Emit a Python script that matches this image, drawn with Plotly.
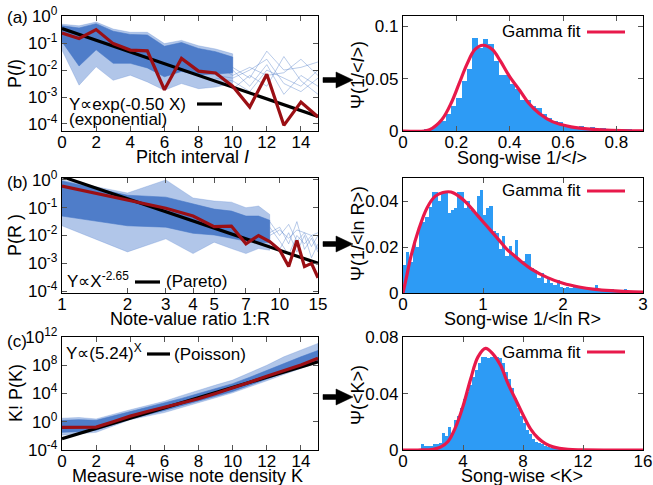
import plotly.graph_objects as go

W, H = 653, 485          # target window
OFF = 0                  # page margin removed by the post script below
FW, FH = W - OFF, H - OFF
FONT = "Liberation Sans, Arial, Helvetica, sans-serif"

# ---------------- data: panel (a) pitch interval ----------------
pitch_I = list(range(16))
pitch_mean_log = [-0.63, -0.83, -0.50, -1.02, -1.26, -1.29, -2.73, -1.57,
                  -2.04, -2.11, -2.60, -3.37, -2.16, -4.05, -3.19, -3.74]
pitch_fit_x = [0, 15]
pitch_fit_log = [-0.46, -3.72]
pitch_band_x = list(range(11))
pitch_outer_hi = [-0.30, -0.36, -0.22, -0.48, -0.60, -0.60, -1.02, -0.90, -1.10, -1.22, -1.40]
pitch_outer_lo = [-1.26, -2.56, -1.88, -2.38, -2.19, -2.44, -2.75, -2.50, -2.69, -2.63, -2.50]
pitch_core_hi = [-0.36, -0.44, -0.28, -0.56, -0.68, -0.70, -1.12, -0.98, -1.20, -1.32, -1.52]
pitch_core_lo = [-0.95, -1.85, -1.25, -1.75, -1.75, -1.92, -2.25, -2.05, -2.17, -2.15, -2.10]
pitch_sparse_x = [9, 10, 11, 12, 13, 14, 15]
pitch_sparse = [
    [-2.0, -1.9, -2.3, -1.3, -2.0, -1.9, -1.7],
    [-2.2, -2.3, -2.0, -1.6, -2.5, -2.8, -2.3],
    [-1.9, -2.0, -2.6, -1.8, -2.9, -2.2, -2.6],
    [-2.3, -2.4, -2.8, -2.0, -2.3, -2.6, -2.0],
    [-2.1, -2.7, -2.2, -2.6, -1.5, -2.4, -2.9],
    [-1.8, -2.2, -1.9, -2.2, -2.1, -1.6, -2.2],
]

# ---------------- data: panel (b) note-value ratio ----------------
ratio_R = list(range(1, 16))
ratio_mean_log = [-0.22, -0.74, -1.02, -1.30, -1.68, -1.66, -2.30, -2.00,
                  -2.22, -2.52, -3.12, -2.18, -3.12, -3.00, -3.52]
ratio_fit_x = [1, 15]
ratio_fit_log = [0.12, -3.00]
ratio_band_x = list(range(1, 10))
ratio_outer_hi = [0.0, -0.47, 0.0, -0.65, -0.76, -0.80, -1.00, -0.94, -1.24]
ratio_outer_lo = [-1.65, -2.59, -2.12, -2.65, -2.24, -2.47, -2.65, -2.47, -2.53]
ratio_core_hi = [-0.04, -0.55, -0.62, -0.85, -1.05, -1.12, -1.30, -1.30, -1.45]
ratio_core_lo = [-1.30, -1.65, -1.70, -1.92, -1.98, -2.10, -2.20, -2.25, -2.25]
ratio_sparse_x = [9, 10, 11, 12, 13, 14, 15]
ratio_sparse = [
    [-1.5, -2.0, -1.6, -2.2, -1.9, -2.4, -2.0],
    [-1.9, -1.7, -2.3, -1.5, -2.5, -2.1, -2.6],
    [-2.2, -2.5, -1.9, -2.6, -2.0, -2.8, -2.3],
    [-1.7, -2.2, -2.7, -2.0, -2.3, -2.0, -2.5],
    [-2.0, -1.8, -2.1, -1.8, -1.9, -2.0, -1.9],
]

# ---------------- data: panel (c) note density ----------------
dens_K = list(range(16))
dens_mean_log = [-0.80, -0.80, -0.75, 0.00, 0.80, 1.45, 2.07, 2.65,
                 3.25, 4.00, 4.75, 5.60, 6.45, 7.25, 8.05, 9.00]
dens_fit_x = [0, 15]
dens_fit_log = [-2.40, 8.50]
dens_outer_hi = [0.5, 0.6, 0.4, 1.1, 1.7, 2.3, 2.9, 3.7, 4.5, 5.2, 5.9, 6.9, 8.0, 9.2, 10.1, 11.1]
dens_outer_lo = [-1.9, -1.7, -1.5, -0.6, 0.3, 0.8, 1.3, 2.0, 2.7, 3.4, 4.1, 4.9, 5.8, 6.7, 7.6, 8.4]
dens_core_hi = [0.2, 0.3, 0.2, 0.8, 1.4, 2.0, 2.6, 3.3, 4.0, 4.7, 5.4, 6.3, 7.3, 8.3, 9.2, 10.1]
dens_core_lo = [-1.5, -1.4, -1.2, -0.4, 0.4, 1.0, 1.6, 2.2, 2.9, 3.6, 4.3, 5.1, 6.0, 6.9, 7.8, 8.6]

# ---------------- data: histograms ----------------
histA_width = 0.02
histA_x = [round(0.07 + 0.02 * i, 2) for i in range(40)]
histA_y = [0.0005, 0.001, 0.0025, 0.007, 0.010, 0.016, 0.024, 0.032, 0.048, 0.059,
           0.089, 0.079, 0.088, 0.083, 0.067, 0.054, 0.054, 0.045, 0.040, 0.030,
           0.030, 0.024, 0.022, 0.016, 0.012, 0.010, 0.009, 0.006, 0.005, 0.004,
           0.005, 0.003, 0.004, 0.002, 0.003, 0.002, 0.002, 0.001, 0.002, 0.001]
gammaA_x = [0, 0.08, 0.10, 0.146, 0.183, 0.21, 0.24, 0.27, 0.30, 0.335, 0.365, 0.40,
            0.44, 0.47, 0.51, 0.56, 0.63, 0.69, 0.82, 0.9]
gammaA_y = [0, 0, 0.0012, 0.011, 0.028, 0.045, 0.064, 0.078, 0.082, 0.078, 0.067, 0.052,
            0.038, 0.027, 0.017, 0.009, 0.004, 0.002, 0.0003, 0.0001]

histB_width = 0.04
histB_x = [round(0.02 + 0.04 * i, 2) for i in range(75)]
histB_y = [0.012, 0.018, 0.0135, 0.022, 0.020, 0.030, 0.031, 0.033, 0.0375, 0.0437,
           0.0437, 0.040, 0.0437, 0.0437, 0.035, 0.036, 0.037, 0.0437, 0.0437, 0.037,
           0.040, 0.036, 0.035, 0.042, 0.045, 0.034, 0.037, 0.038, 0.027, 0.026,
           0.019, 0.025, 0.016, 0.0205, 0.016, 0.023, 0.015, 0.014, 0.017, 0.017,
           0.011, 0.010, 0.0065, 0.0085, 0.0045, 0.0065, 0.0045, 0.0035, 0.0055, 0.0028,
           0.002, 0.0028, 0.002, 0.0028, 0.002, 0.0028, 0.0018, 0.0025, 0.0015, 0.002,
           0.0035, 0.0015, 0.001, 0.0015, 0.001, 0.0018, 0.0015, 0.001, 0.0015, 0.0018,
           0.001, 0.0005, 0.0008, 0.0005, 0.0003]
gammaB_x = [0, 0.05, 0.1, 0.2, 0.3, 0.4, 0.5, 0.6, 0.7, 0.8, 0.9, 1.0, 1.1, 1.2, 1.3,
            1.4, 1.5, 1.6, 1.8, 2.0, 2.2, 2.4, 2.6, 2.8, 3.0]
gammaB_y = [0, 0.008, 0.016, 0.028, 0.037, 0.042, 0.0437, 0.0439, 0.042, 0.039, 0.035,
            0.031, 0.027, 0.023, 0.019, 0.016, 0.013, 0.0105, 0.0068, 0.0042, 0.0026,
            0.0016, 0.001, 0.0006, 0.0004]

histC_width = 0.2
histC_x = [round(1.3 + 0.2 * i, 1) for i in range(50)]
histC_y = [0.004, 0.003, 0.003, 0.003, 0.004, 0.004, 0.005, 0.012, 0.010, 0.016,
           0.012, 0.021, 0.024, 0.030, 0.036, 0.041, 0.046, 0.052, 0.057, 0.062,
           0.066, 0.066, 0.065, 0.066, 0.067, 0.066, 0.065, 0.062, 0.055, 0.050,
           0.044, 0.037, 0.030, 0.024, 0.019, 0.014, 0.011, 0.008, 0.006, 0.005,
           0.004, 0.003, 0.002, 0.0015, 0.001, 0.0008, 0.0006, 0.0005, 0.0004, 0.0003]
gammaC_x = [0, 1, 2, 2.5, 3, 3.5, 4, 4.5, 5, 5.5, 6, 6.5, 7, 7.5, 8, 8.5, 9, 9.5, 10, 11, 12, 16]
gammaC_y = [0, 0, 0.0005, 0.002, 0.006, 0.016, 0.031, 0.050, 0.066, 0.072, 0.068, 0.060,
            0.047, 0.036, 0.025, 0.015, 0.0085, 0.0045, 0.0022, 0.0004, 0.0001, 0]

# ---------------- styling constants ----------------
RED = "#9b0f14"
GAMMA = "#e8194b"
HIST = "#2d9bf5"
CORE = "rgba(70,118,198,0.92)"
OUTER = "rgba(100,142,212,0.5)"
THIN = "rgba(80,125,200,0.5)"
TICK_SIZE = 17
TITLE_SIZE = 18
LEG_SIZE = 17


def p10(v):
    return [10 ** a for a in v]


def px(x):
    return (x - OFF) / FW


def py(y):
    return 1 - (y - OFF) / FH


fig = go.Figure()


def band(xs, hi, lo, color, xa, ya):
    fig.add_trace(go.Scatter(
        x=list(xs) + list(xs)[::-1], y=p10(hi) + p10(lo)[::-1],
        fill="toself", fillcolor=color, mode="lines",
        line=dict(width=0.6, color=color), hoverinfo="skip",
        xaxis=xa, yaxis=ya))


def thin(xs, ys, xa, ya):
    fig.add_trace(go.Scatter(x=xs, y=p10(ys), mode="lines",
                             line=dict(width=0.8, color=THIN),
                             hoverinfo="skip", xaxis=xa, yaxis=ya))


band(pitch_band_x, pitch_outer_hi, pitch_outer_lo, OUTER, "x", "y")
band(pitch_band_x, pitch_core_hi, pitch_core_lo, CORE, "x", "y")
for s in pitch_sparse:
    thin(pitch_sparse_x, s, "x", "y")

band(ratio_band_x, ratio_outer_hi, ratio_outer_lo, OUTER, "x3", "y3")
band(ratio_band_x, ratio_core_hi, ratio_core_lo, CORE, "x3", "y3")
for s in ratio_sparse:
    thin(ratio_sparse_x, s, "x3", "y3")

band(dens_K, dens_outer_hi, dens_outer_lo, OUTER, "x5", "y5")
band(dens_K, dens_core_hi, dens_core_lo, CORE, "x5", "y5")

for xs, ys, xa, ya in [(pitch_fit_x, pitch_fit_log, "x", "y"),
                       (ratio_fit_x, ratio_fit_log, "x3", "y3"),
                       (dens_fit_x, dens_fit_log, "x5", "y5")]:
    fig.add_trace(go.Scatter(x=xs, y=p10(ys), mode="lines",
                             line=dict(color="black", width=3.2),
                             xaxis=xa, yaxis=ya, hoverinfo="skip"))
for xs, ys, xa, ya in [(pitch_I, pitch_mean_log, "x", "y"),
                       (ratio_R, ratio_mean_log, "x3", "y3"),
                       (dens_K, dens_mean_log, "x5", "y5")]:
    fig.add_trace(go.Scatter(x=xs, y=p10(ys), mode="lines",
                             line=dict(color=RED, width=3.2),
                             xaxis=xa, yaxis=ya, hoverinfo="skip"))

for hx, hy, w, gx, gy, xa, ya in [
        (histA_x, histA_y, histA_width, gammaA_x, gammaA_y, "x2", "y2"),
        (histB_x, histB_y, histB_width, gammaB_x, gammaB_y, "x4", "y4"),
        (histC_x, histC_y, histC_width, gammaC_x, gammaC_y, "x6", "y6")]:
    fig.add_trace(go.Bar(x=hx, y=hy, width=w, marker=dict(color=HIST, line=dict(width=0)),
                         xaxis=xa, yaxis=ya, hoverinfo="skip"))
    fig.add_trace(go.Scatter(x=gx, y=gy, mode="lines", line=dict(color=GAMMA, width=3.2,
                             shape="spline", smoothing=1.0),
                             xaxis=xa, yaxis=ya, hoverinfo="skip"))

LX = [px(62), px(318)]
RX = [px(403), px(643)]
ROWA = [py(131), py(16)]
ROWB = [py(293), py(178)]
ROWC = [py(450), py(337)]

common = dict(showline=True, linecolor="black", linewidth=1.3, mirror="allticks",
              ticks="inside", ticklen=5, tickcolor="#555", showgrid=False, zeroline=False,
              automargin=False, ticklabeloverflow="allow",
              tickfont=dict(family=FONT, size=TICK_SIZE, color="black"))
xcommon = dict(common, ticklabelstandoff=-5)
ycommon = dict(common)


def sup(e):
    return "10<sup>%s</sup>" % e


fig.update_layout(
    xaxis=dict(domain=LX, anchor="y", range=[0, 15], tickvals=list(range(0, 15, 2)), **xcommon),
    yaxis=dict(domain=ROWA, anchor="x", type="log", range=[-4.26, 0.004],
               tickvals=[1, 0.1, 0.01, 0.001, 0.0001],
               ticktext=[sup(0), sup(-1), sup(-2), sup(-3), sup(-4)], **ycommon),
    xaxis2=dict(domain=RX, anchor="y2", range=[0, 0.9], tickvals=[0, 0.2, 0.4, 0.6, 0.8],
                ticktext=["0", "0.2", "0.4", "0.6", "0.8"], **xcommon),
    yaxis2=dict(domain=ROWA, anchor="x2", range=[0, 0.11], tickvals=[0, 0.05, 0.1],
                ticktext=["0", "0.05", "0.1"], **ycommon),
    xaxis3=dict(domain=LX, anchor="y3", type="log", range=[0, 1.1761],
                tickvals=[1, 2, 3, 4, 5, 7, 10, 15],
                ticktext=["1", "2", "3", "4", "5", "7", "10", "15"], **xcommon),
    yaxis3=dict(domain=ROWB, anchor="x3", type="log", range=[-4.07, 0.07],
                tickvals=[1, 0.1, 0.01, 0.001, 0.0001],
                ticktext=[sup(0), sup(-1), sup(-2), sup(-3), sup(-4)], **ycommon),
    xaxis4=dict(domain=RX, anchor="y4", range=[0, 3], tickvals=[0, 1, 2, 3], **xcommon),
    yaxis4=dict(domain=ROWB, anchor="x4", range=[0, 0.05], tickvals=[0, 0.02, 0.04],
                ticktext=["0", "0.02", "0.04"], **ycommon),
    xaxis5=dict(domain=LX, anchor="y5", range=[0, 15], tickvals=list(range(0, 15, 2)), **xcommon),
    yaxis5=dict(domain=ROWC, anchor="x5", type="log", range=[-4, 12.004],
                tickvals=[1e-4, 1, 1e4, 1e8, 1e12],
                ticktext=[sup(-4), sup(0), sup(4), sup(8), sup(12)], **ycommon),
    xaxis6=dict(domain=RX, anchor="y6", range=[0, 16], tickvals=[0, 4, 8, 12, 16], **xcommon),
    yaxis6=dict(domain=ROWC, anchor="x6", range=[0, 0.0801], tickvals=[0, 0.04, 0.08],
                ticktext=["0", "0.04", "0.08"], **ycommon),
)

ann = []


def text(x, y, s, xanchor="center", yanchor="middle", angle=0, size=LEG_SIZE):
    ann.append(dict(x=px(x), y=py(y), xref="paper", yref="paper", text=s, showarrow=False,
                    xanchor=xanchor, yanchor=yanchor, textangle=angle,
                    font=dict(family=FONT, size=size, color="black")))


text(5, 18, "(a)", xanchor="left")
text(5, 182, "(b)", xanchor="left")
text(5, 341, "(c)", xanchor="left")

text(192, 157, "Pitch interval <i>I</i>", size=TITLE_SIZE)
text(190, 319, "Note-value ratio 1:R", size=TITLE_SIZE)
text(187, 476, "Measure-wise note density K", size=TITLE_SIZE)
text(522, 158, "Song-wise 1/&lt;<i>I</i>&gt;", size=TITLE_SIZE)
text(522, 319, "Song-wise 1/&lt;ln R&gt;", size=TITLE_SIZE)
text(522, 476, "Song-wise &lt;K&gt;", size=TITLE_SIZE)

text(15, 74, "P(<i>I</i>)", angle=-90, size=TITLE_SIZE)
text(15, 235, "P(R )", angle=-90, size=TITLE_SIZE)
text(16, 393, "K! P(K)", angle=-90, size=TITLE_SIZE)
text(358, 75, "Ψ(1/&lt;<i>I</i>&gt;)", angle=-90, size=TITLE_SIZE)
text(358, 234, "Ψ(1/&lt;ln R&gt;)", angle=-90, size=TITLE_SIZE)
text(358, 395, "Ψ(&lt;K&gt;)", angle=-90, size=TITLE_SIZE)

text(67, 104, "Y∝exp(-0.50 X)", xanchor="left")
text(67, 119, "(exponential)", xanchor="left")
text(65, 280, "Y∝X<sup>-2.65</sup>", xanchor="left")
text(164, 281, "(Pareto)", xanchor="left")
text(64, 352, "Y∝(5.24)<sup>X</sup>", xanchor="left")
text(172, 354, "(Poisson)", xanchor="left")

for yy in (32, 191, 352):
    text(583, yy, "Gamma fit", xanchor="right")

fig.update_layout(annotations=ann)

shapes = []
for x0, x1, yy in [(197, 222, 104), (135, 160, 282), (147, 170, 354)]:
    shapes.append(dict(type="line", xref="paper", yref="paper", x0=px(x0), x1=px(x1),
                       y0=py(yy), y1=py(yy), line=dict(color="black", width=3.2)))
for yy in (32, 191, 352):
    shapes.append(dict(type="line", xref="paper", yref="paper", x0=px(587), x1=px(625),
                       y0=py(yy), y1=py(yy), line=dict(color=GAMMA, width=3.2)))


def arrow(yc):
    pts = [(323, yc - 2.5), (336, yc - 2.5), (336, yc - 8), (353, yc), (336, yc + 8),
           (336, yc + 2.5), (323, yc + 2.5)]
    path = "M " + " L ".join("%.5f,%.5f" % (px(a), py(b)) for a, b in pts) + " Z"
    return dict(type="path", xref="paper", yref="paper", path=path,
                fillcolor="black", line=dict(color="black", width=0.5))


for yc in (80, 244, 397):
    shapes.append(arrow(yc))
fig.update_layout(shapes=shapes)

fig.update_layout(width=FW, height=FH, margin=dict(l=0, r=0, t=0, b=0),
                  paper_bgcolor="white", plot_bgcolor="white", showlegend=False,
                  bargap=0, font=dict(family=FONT))

fig.write_html("out.html", config={"displayModeBar": False},
               post_script="document.body.style.margin='0';document.body.style.overflow='hidden';")
